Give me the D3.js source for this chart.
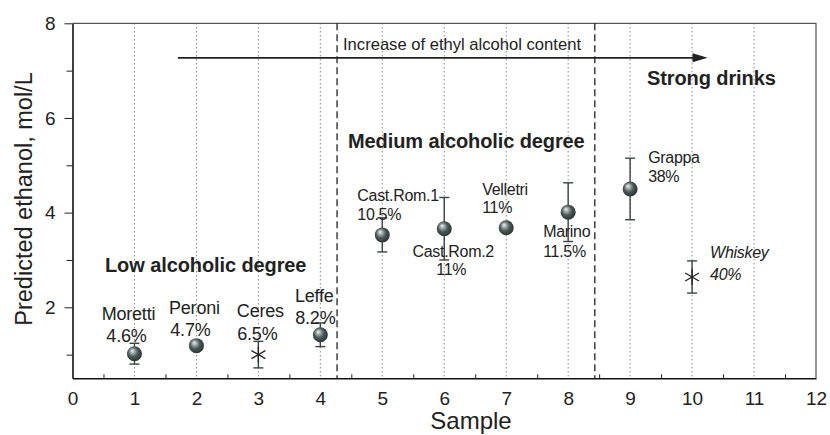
<!DOCTYPE html>
<html>
<head>
<meta charset="utf-8">
<script src="https://cdn.jsdelivr.net/npm/d3@7"></script>
<style>
  html, body { margin: 0; padding: 0; background: #fff; }
  svg { display: block; font-family: "Liberation Sans", Arial, Helvetica, sans-serif; }
</style>
</head>
<body>
<svg id="chart" width="830" height="435"></svg>
<script>
// Samples and predicted ethanol concentration (mol/L) with uncertainty
const samples  = [1, 2, 3, 4, 5, 6, 7, 8, 9, 10];
const names    = ["Moretti", "Peroni", "Ceres", "Leffe", "Cast.Rom.1", "Cast.Rom.2", "Velletri", "Marino", "Grappa", "Whiskey"];
const abv      = ["4.6%", "4.7%", "6.5%", "8.2%", "10.5%", "11%", "11%", "11.5%", "38%", "40%"];
const ethanol  = [1.02, 1.19, 1.00, 1.42, 3.53, 3.66, 3.68, 4.01, 4.50, 2.64];
const errors   = [0.22, 0.08, 0.28, 0.25, 0.36, 0.66, 0.08, 0.62, 0.65, 0.34];
const markers  = ["ball", "ball", "star", "ball", "ball", "ball", "ball", "ball", "ball", "star"];

// Axis ticks
const xTicks      = [0, 1, 2, 3, 4, 5, 6, 7, 8, 9, 10, 11, 12];
const xMinorTicks = [0.5, 1.5, 2.5, 3.5, 4.5, 5.5, 6.5, 7.5, 8.5, 9.5, 10.5, 11.5];
const yTicks      = [2, 4, 6, 8];
const yMinorTicks = [1, 3, 5, 7];

// Group boundaries (sample axis) and annotation texts
const boundaries = [4.27, 8.43];
const groupTitles = ["Low alcoholic degree", "Medium alcoholic degree", "Strong drinks"];
const arrowText = "Increase of ethyl alcohol content";
const arrowSpan = [1.7, 10.25];
const arrowLevel = 7.27;

// Label layout: offsets (px) of the two label lines from each point
const labelLayout = [
  { anchor: "middle", dx: [-6, -8],  dy: [-34, -12], size: 18 },
  { anchor: "middle", dx: [-2, -6],  dy: [-32, -10], size: 18 },
  { anchor: "middle", dx: [2, -1],   dy: [-38, -15], size: 18 },
  { anchor: "middle", dx: [-6, -5],  dy: [-33, -11], size: 18 },
  { anchor: "start",  dx: [-25, -25], dy: [-34, -15], size: 16 },
  { anchor: "middle", dx: [9, 7],    dy: [28, 46],   size: 16 },
  { anchor: "start",  dx: [-24, -24], dy: [-33, -15], size: 16 },
  { anchor: "start",  dx: [-25, -25], dy: [25, 45],  size: 16 },
  { anchor: "start",  dx: [18, 18],  dy: [-26, -7],  size: 16 },
  { anchor: "start",  dx: [18, 18],  dy: [-19, 3],   size: 16, italic: true }
];

const plot = { left: 72.5, right: 816, top: 23.3, bottom: 378.3 };

const svg = d3.select("#chart");
const x = d3.scaleLinear().domain([0, 12]).range([plot.left, plot.right]);
const y = d3.scaleLinear().domain([0.5, 8]).range([plot.bottom, plot.top]);

// Sphere shading
const defs = svg.append("defs");
const grad = defs.append("radialGradient")
  .attr("id", "ballShade").attr("cx", "45%").attr("cy", "45%").attr("r", "60%")
  .attr("fx", "35%").attr("fy", "30%");
grad.append("stop").attr("offset", "0%").attr("stop-color", "#f2f4f4");
grad.append("stop").attr("offset", "22%").attr("stop-color", "#a9b1b1");
grad.append("stop").attr("offset", "55%").attr("stop-color", "#4b5757");
grad.append("stop").attr("offset", "100%").attr("stop-color", "#263030");

// Vertical dotted grid at integer samples
svg.append("g").selectAll("line")
  .data(xTicks.filter(t => t > 0 && t < 12))
  .join("line")
  .attr("x1", d => x(d)).attr("x2", d => x(d))
  .attr("y1", plot.top).attr("y2", plot.bottom)
  .attr("stroke", "#555").attr("stroke-width", 1)
  .attr("stroke-dasharray", "1,3");

// Frame (top and right)
svg.append("path")
  .attr("d", `M${plot.left},${plot.top}H${plot.right}V${plot.bottom}`)
  .attr("fill", "none").attr("stroke", "#555").attr("stroke-width", 1.2);

// Group boundaries
svg.append("g").selectAll("line")
  .data(boundaries)
  .join("line")
  .attr("x1", d => x(d)).attr("x2", d => x(d))
  .attr("y1", plot.top).attr("y2", plot.bottom)
  .attr("stroke", "#222").attr("stroke-width", 1.3)
  .attr("stroke-dasharray", "7,4");

// Bottom axis
const gx = svg.append("g").attr("transform", `translate(0,${plot.bottom})`)
  .call(d3.axisBottom(x).tickValues(xTicks).tickFormat(d3.format("d"))
    .tickSize(0).tickPadding(13));
gx.select(".domain").attr("stroke", "#111").attr("stroke-width", 1.6);
gx.selectAll("text").attr("font-size", 19).attr("fill", "#222")
  .attr("font-family", "Liberation Sans, Arial, sans-serif");

const gxm = svg.append("g").attr("transform", `translate(0,${plot.bottom})`)
  .call(d3.axisBottom(x).tickValues(xMinorTicks).tickFormat("").tickSize(-4).tickSizeOuter(0));
gxm.select(".domain").remove();
gxm.selectAll("line").attr("stroke", "#222");

// Left axis
const gy = svg.append("g").attr("transform", `translate(${plot.left},0)`)
  .call(d3.axisLeft(y).tickValues(yTicks).tickFormat(d3.format("d"))
    .tickSize(8).tickSizeOuter(0).tickPadding(9));
gy.select(".domain").attr("stroke", "#111").attr("stroke-width", 1.6);
gy.selectAll("line").attr("stroke", "#222");
gy.selectAll("text").attr("font-size", 19).attr("fill", "#222")
  .attr("font-family", "Liberation Sans, Arial, sans-serif");

const gym = svg.append("g").attr("transform", `translate(${plot.left},0)`)
  .call(d3.axisLeft(y).tickValues(yMinorTicks).tickFormat("").tickSize(6).tickSizeOuter(0));
gym.select(".domain").remove();
gym.selectAll("line").attr("stroke", "#222");

// Axis titles
svg.append("text")
  .attr("x", 471).attr("y", 429)
  .attr("text-anchor", "middle").attr("font-size", 24).attr("fill", "#222")
  .text("Sample");
svg.append("text")
  .attr("transform", "translate(32,199) rotate(-90)")
  .attr("text-anchor", "middle").attr("font-size", 23.5).attr("fill", "#222")
  .text("Predicted ethanol, mol/L");

// Trend arrow
svg.append("line")
  .attr("x1", x(arrowSpan[0])).attr("x2", x(arrowSpan[1]) - 12)
  .attr("y1", y(arrowLevel)).attr("y2", y(arrowLevel))
  .attr("stroke", "#222").attr("stroke-width", 1.6);
svg.append("path")
  .attr("d", () => {
    const tx = x(arrowSpan[1]), ty = y(arrowLevel);
    return `M${tx},${ty}L${tx - 15},${ty - 4.5}L${tx - 15},${ty + 4.5}Z`;
  })
  .attr("fill", "#222");
svg.append("text")
  .attr("x", 343).attr("y", 50)
  .attr("font-size", 16.6).attr("fill", "#222")
  .text(arrowText);

// Group titles
const titlePos = [[105, 272], [348, 148], [647, 85]];
svg.append("g").selectAll("text")
  .data(groupTitles)
  .join("text")
  .attr("x", (d, i) => titlePos[i][0]).attr("y", (d, i) => titlePos[i][1])
  .attr("font-size", 20).attr("font-weight", "bold").attr("fill", "#222")
  .attr("letter-spacing", -0.1)
  .text(d => d);

// Points
const data = samples.map((s, i) => ({
  s, v: ethanol[i], e: errors[i], m: markers[i], name: names[i], abv: abv[i], lay: labelLayout[i]
}));

// Error bars
const eb = svg.append("g").attr("stroke", "#3a4444").attr("stroke-width", 1.4);
data.forEach(d => {
  const cx = x(d.s);
  eb.append("line").attr("x1", cx).attr("x2", cx).attr("y1", y(d.v + d.e)).attr("y2", y(d.v - d.e));
  eb.append("line").attr("x1", cx - 5).attr("x2", cx + 5).attr("y1", y(d.v + d.e)).attr("y2", y(d.v + d.e));
  eb.append("line").attr("x1", cx - 5).attr("x2", cx + 5).attr("y1", y(d.v - d.e)).attr("y2", y(d.v - d.e));
});

// Markers
svg.append("g").selectAll("circle")
  .data(data.filter(d => d.m === "ball"))
  .join("circle")
  .attr("cx", d => x(d.s)).attr("cy", d => y(d.v)).attr("r", 7.5)
  .attr("fill", "url(#ballShade)");

const star = svg.append("g").attr("stroke", "#222").attr("stroke-width", 1.3);
data.filter(d => d.m === "star").forEach(d => {
  const cx = x(d.s), cy = y(d.v), r = 8;
  [90, 30, 150].forEach(a => {
    const rad = a * Math.PI / 180;
    star.append("line")
      .attr("x1", cx - r * Math.cos(rad)).attr("y1", cy - r * Math.sin(rad))
      .attr("x2", cx + r * Math.cos(rad)).attr("y2", cy + r * Math.sin(rad));
  });
});

// Sample labels
const lbl = svg.append("g").attr("fill", "#222");
data.forEach(d => {
  const cx = x(d.s), cy = y(d.v), L = d.lay;
  [d.name, d.abv].forEach((t, k) => {
    lbl.append("text")
      .attr("x", cx + L.dx[k]).attr("y", cy + L.dy[k])
      .attr("text-anchor", L.anchor)
      .attr("font-size", L.size)
      .attr("font-style", L.italic ? "italic" : null)
      .attr("letter-spacing", L.size < 18 ? -0.3 : -0.2)
      .text(t);
  });
});
</script>
</body>
</html>
